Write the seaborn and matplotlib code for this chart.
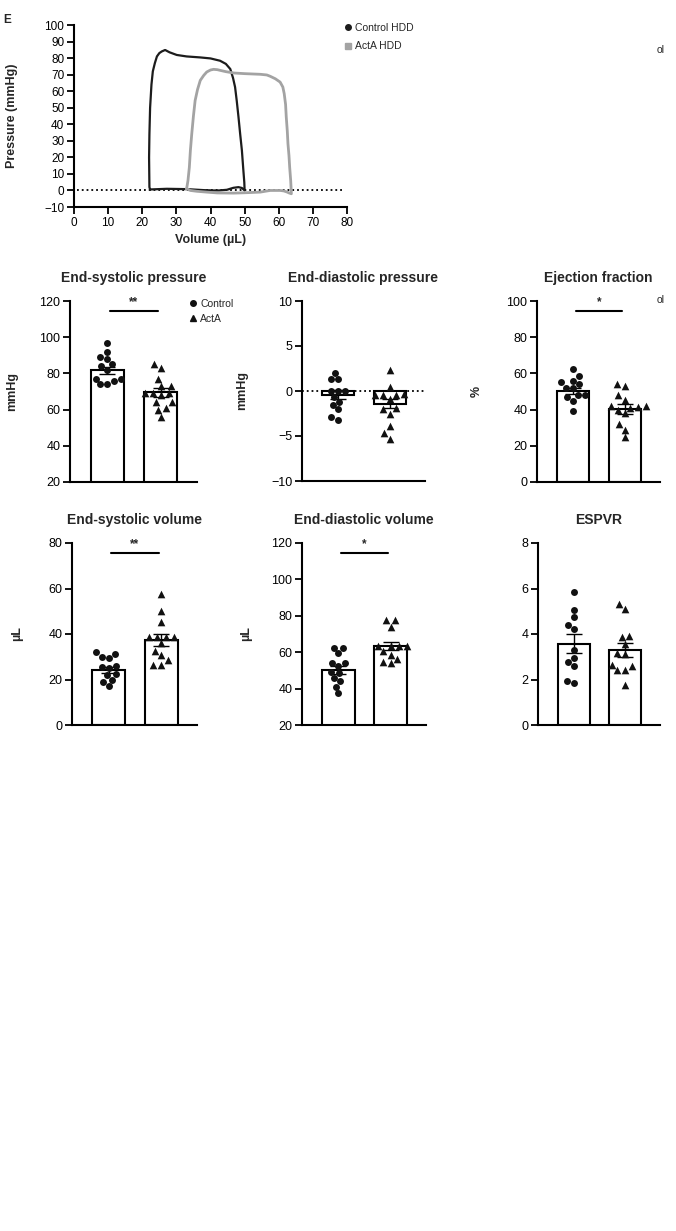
import matplotlib
matplotlib.use("Agg")
import numpy as np
import pandas as pd
import matplotlib.pyplot as plt
import seaborn as sns
from matplotlib.lines import Line2D

sns.set_theme(style="ticks")
plt.rcParams['font.family'] = ['Liberation Sans', 'DejaVu Sans']

# ---- pressure-volume loops ----
ctrl_vol = [22.3, 22.1, 22.0, 22.1, 22.3, 22.7, 23.1, 23.7, 24.3, 25.0, 25.7, 26.7, 28.0,
            30.1, 33.0, 37.0, 40.0, 42.8, 44.5, 45.8, 46.6, 47.2, 47.7, 48.2, 48.7, 49.2,
            49.6, 49.9, 50.0, 49.2, 48.2, 46.7, 44.8, 42.5, 40.9, 38.0, 33.0, 27.2, 22.3]
ctrl_pres = [0.6, 2, 20, 34, 50, 64, 72, 77, 81, 83, 84, 84.9, 83.5,
             81.9, 81, 80.4, 79.8, 78.4, 76.5, 73.4, 68, 62.5, 54, 44.4, 34, 24.2,
             13, 5, 0, 1.5, 2, 1.6, 0.4, 0, 0, 0.2, 0.8, 1, 0.6]
acta_vol = [33.0, 33.4, 33.8, 34.1, 34.5, 35.0, 35.5, 36.2, 37.0, 38.0, 38.9, 40.0, 40.9,
            42.0, 42.8, 44.5, 46.8, 50.0, 54.6, 56.5, 57.5, 59.0, 60.4, 61.2, 61.6, 62.0,
            62.2, 62.5, 62.7, 63.0, 63.2, 63.5, 63.7, 63.0, 62.5, 61.5, 60.4, 59.0, 57.5,
            56.0, 54.6, 50.0, 46.8, 42.0, 38.9, 36.0, 34.1, 33.0]
acta_pres = [1, 6, 14, 24, 34, 45, 54.4, 61, 66.5, 69.5, 71.6, 72.8, 73.2,
             73.0, 72.6, 71.8, 71, 70.6, 70.2, 69.8, 69, 67.5, 65.5, 62.5, 58.5, 52,
             44.4, 36, 28.2, 21, 14.1, 6, -2, -1.5, -1, -0.3, 0, 0, 0,
             -0.5, -1, -1.4, -1.6, -1.5, -1, -0.5, 0, 1]

groups = ["Control", "ActA"]

# ---- individual animals ----
esp_ctrl = [97, 92, 89, 88, 85, 84, 82, 77, 77, 76, 74, 74]
esp_acta = [85, 83, 77, 73, 73, 69, 69, 69, 68, 64, 64, 61, 60, 56]
edp_ctrl = [2.0, 1.3, 1.3, 0.0, 0.0, 0.0, -0.7, -1.2, -1.5, -2.0, -2.9, -3.2]
edp_acta = [2.3, 0.5, -0.3, -0.4, -0.4, -0.4, -0.9, -1.9, -2.0, -2.5, -3.9, -4.7, -5.3]
ef_ctrl = [62.5, 58.5, 56, 55, 54, 52, 52, 48, 48, 47, 45, 39.5]
ef_acta = [54, 53, 48, 45.5, 42, 42, 41.5, 41, 40, 38, 32, 29, 24.7]
esv_ctrl = [32, 31, 30, 29.5, 26, 25.5, 25, 22.5, 22, 20, 19, 17.3]
esv_acta = [57.7, 50, 45.4, 38.8, 38.8, 38.8, 38.8, 36, 32.7, 30.7, 28.5, 26.5, 26.5]
edv_ctrl = [62.4, 62.4, 59.6, 54.2, 53.9, 52.6, 49.3, 48.4, 45.7, 44.2, 41.1, 37.5]
edv_acta = [77.7, 77.7, 74.1, 63.5, 63.5, 63.5, 63.5, 60.4, 58.6, 56.3, 54.4, 53.9]
espvr_ctrl = [5.85, 5.07, 4.75, 4.4, 4.2, 3.3, 2.95, 2.75, 2.6, 1.92, 1.85]
espvr_acta = [5.3, 5.1, 3.9, 3.85, 3.55, 3.15, 3.1, 2.65, 2.6, 2.4, 2.4, 1.78]

# ---- bar heights (mean) and SEM ----
esp_mean, esp_sem = [81.7, 69.5], [2.0, 2.5]
edp_mean, edp_sem = [-0.4, -1.4], [0.5, 0.5]
ef_mean, ef_sem = [50.4, 40.5], [1.8, 2.7]
esv_mean, esv_sem = [24.2, 37.4], [1.5, 2.6]
edv_mean, edv_sem = [50.2, 63.4], [2.0, 2.0]
espvr_mean, espvr_sem = [3.57, 3.3], [0.42, 0.3]

W, H = 676, 1231
fig = plt.figure(figsize=(W / 100, H / 100), dpi=100)


def px_axes(l, r, t, b):
    return fig.add_axes([l / W, 1 - b / H, (r - l) / W, (b - t) / H])


def style_axes(ax, tsize):
    sns.despine(ax=ax)
    for s in ["left", "bottom"]:
        ax.spines[s].set_linewidth(1.5)
        ax.spines[s].set_color("black")
    ax.tick_params(axis="y", length=5, width=1.3, labelsize=tsize, pad=2, colors="black")


# ---- PV loop panel ----
ax = px_axes(74, 347, 25, 207)
style_axes(ax, 8.5)
ax.axhline(0, xmin=1 / 80, xmax=79 / 80, color="black", ls=":", lw=1.3)
sns.lineplot(x=ctrl_vol, y=ctrl_pres, sort=False, estimator=None, color="#1c1c1c", lw=1.6, ax=ax)
sns.lineplot(x=acta_vol, y=acta_pres, sort=False, estimator=None, color="#a3a3a3", lw=2.0, ax=ax)
ax.set_xlim(0, 80)
ax.set_ylim(-10, 100)
ax.set_xticks(np.arange(0, 81, 10))
ax.set_yticks(np.arange(-10, 101, 10))
ax.tick_params(axis="x", length=5, width=1.3, labelsize=8.5, pad=2, colors="black")
ax.set_xlabel("Volume (µL)", fontsize=9, fontweight="bold", labelpad=4)
ax.set_ylabel("Pressure (mmHg)", fontsize=9, fontweight="bold")
ax.yaxis.set_label_coords(-0.205, 0.5)
fig.text(3 / W, 1 - 20 / H, "E", fontsize=8.5, fontweight="bold", va="center")
fig.legend(handles=[Line2D([], [], marker="o", color="#1c1c1c", ls="", markersize=4),
                    Line2D([], [], marker="s", color="#a3a3a3", ls="", markersize=4)],
           labels=["Control HDD", "ActA HDD"], loc="upper left",
           bbox_to_anchor=(345 / W, 1 - 23 / H), frameon=False, fontsize=7.5,
           handlelength=0.6, handletextpad=0.4, labelspacing=0.8, borderpad=0, borderaxespad=0)
fig.text(657 / W, 1 - 50 / H, "ol", fontsize=7.5, va="center")


def bar_panel(box, title, ylabel, lab_x, ctrl, acta, means, sems, ylim, step, sig=None, zero=False):
    ax = px_axes(*box)
    style_axes(ax, 9)
    if zero:
        ax.axhline(0, color="black", ls=":", lw=1.3, zorder=1)
    sns.barplot(x=groups, y=means, order=groups, color="white", edgecolor="black",
                linewidth=1.5, width=0.62, errorbar=None, ax=ax, zorder=2)
    ax.errorbar([0, 1], means, yerr=sems, fmt="none", ecolor="black", elinewidth=1,
                capsize=6, capthick=1, zorder=3)
    df_c = pd.DataFrame({"group": "Control", "value": ctrl})
    df_a = pd.DataFrame({"group": "ActA", "value": acta})
    sns.swarmplot(data=df_c, x="group", y="value", order=groups, marker="o", color="#111111",
                  size=5, ax=ax, zorder=4)
    sns.swarmplot(data=df_a, x="group", y="value", order=groups, marker="^", color="#111111",
                  size=5.5, ax=ax, zorder=4)
    ax.set_xlim(-0.7, 1.68)
    ax.set_ylim(*ylim)
    ax.set_yticks(np.arange(ylim[0], ylim[1] + step / 2, step))
    ax.tick_params(axis="x", length=0, labelbottom=False)
    ax.set_xlabel("")
    ax.set_ylabel(ylabel, fontsize=9, fontweight="bold")
    ax.yaxis.set_label_coords(lab_x, 0.5)
    ax.set_title(title, fontsize=10, fontweight="bold", pad=14)
    if sig is not None:
        y_line, y_txt, stars = sig
        ax.plot([0.05, 0.95], [y_line, y_line], color="black", lw=1.5, clip_on=False)
        ax.text(0.5, y_txt, stars, ha="center", va="center", fontsize=8.5, fontweight="bold",
                clip_on=False)
    return ax


bar_panel((70, 197, 301, 482), "End-systolic pressure", "mmHg", -0.41,
          esp_ctrl, esp_acta, esp_mean, esp_sem, (20, 120), 20, sig=(114.7, 119.2, "**"))
bar_panel((302, 425, 301, 481), "End-diastolic pressure", "mmHg", -0.44,
          edp_ctrl, edp_acta, edp_mean, edp_sem, (-10, 10), 5, zero=True)
bar_panel((537, 660, 301, 482), "Ejection fraction", "%", -0.44,
          ef_ctrl, ef_acta, ef_mean, ef_sem, (0, 100), 20, sig=(94.7, 99.5, "*"))
bar_panel((72, 197, 543, 725), "End-systolic volume", "µL", -0.39,
          esv_ctrl, esv_acta, esv_mean, esv_sem, (0, 80), 20, sig=(75.8, 79.5, "**"))
bar_panel((302, 426, 543, 725), "End-diastolic volume", "µL", -0.40,
          edv_ctrl, edv_acta, edv_mean, edv_sem, (20, 120), 20, sig=(114.7, 119.5, "*"))
bar_panel((538, 660, 543, 725), "ESPVR", "", -0.4,
          espvr_ctrl, espvr_acta, espvr_mean, espvr_sem, (0, 8), 2)

fig.legend(handles=[Line2D([], [], marker="o", color="#111111", ls="", markersize=4),
                    Line2D([], [], marker="^", color="#111111", ls="", markersize=4)],
           labels=groups, loc="upper left", bbox_to_anchor=(190 / W, 1 - 299 / H),
           frameon=False, fontsize=7.5, handlelength=0.6, handletextpad=0.4,
           labelspacing=0.45, borderpad=0, borderaxespad=0)
fig.text(657 / W, 1 - 300 / H, "ol", fontsize=7.5, va="center")

fig.savefig("out.png", dpi=100, facecolor="white")
